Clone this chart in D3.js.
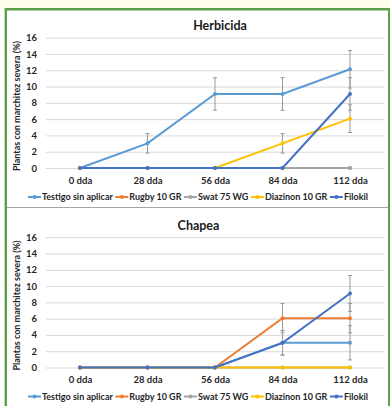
<!DOCTYPE html>
<html>
<head>
<meta charset="utf-8">
<script src="https://cdn.jsdelivr.net/npm/d3@7"></script>
<style>
  html, body { margin: 0; padding: 0; background: #fff; }
  svg text { font-family: Lato, "Open Sans", sans-serif; }
</style>
</head>
<body>
<svg id="chart" width="390" height="406"></svg>
<script>
// categories and series
var days = ['0 dda', '28 dda', '56 dda', '84 dda', '112 dda'];
var seriesNames = ['Testigo sin aplicar', 'Rugby 10 GR', 'Swat 75 WG', 'Diazinon 10 GR', 'Filokil'];
var seriesColors = ['#5B9BD5', '#ED7D31', '#A5A5A5', '#FFC000', '#4472C4'];
var yTicks = [0, 2, 4, 6, 8, 10, 12, 14, 16];

// Herbicida
var herbTestigo = [0, 3.03, 9.09, 9.09, 12.12];
var herbRugby = [0, 0, 0, 0, 0];
var herbSwat = [0, 0, 0, 0, 0];
var herbDiazinon = [0, 0, 0, 3.03, 6.06];
var herbFilokil = [0, 0, 0, 0, 9.09];
var herbTestigoErr = [0, 1.2, 2.0, 2.0, 2.3];
var herbDiazinonErr = [0, 0, 0, 1.2, 1.7];
var herbFilokilErr = [0, 0, 0, 0, 2.0];

// Chapea
var chapTestigo = [0, 0, 0, 3.03, 3.03];
var chapRugby = [0, 0, 0, 6.06, 6.06];
var chapSwat = [0, 0, 0, 0, 0];
var chapDiazinon = [0, 0, 0, 0, 0];
var chapFilokil = [0, 0, 0, 3.03, 9.09];
var chapTestigoErr = [0, 0, 0, 1.5, 2.1];
var chapRugbyErr = [0, 0, 0, 1.8, 1.8];
var chapFilokilErr = [0, 0, 0, 1.5, 2.2];

var svg = d3.select('#chart');

// page frame
svg.append('rect').attr('x', 0).attr('y', 0).attr('width', 390).attr('height', 9)
    .attr('fill', '#FFFEEC');
svg.append('rect').attr('x', 0).attr('y', 9).attr('width', 390).attr('height', 397)
    .attr('fill', '#fff');
svg.append('line').attr('x1', 7).attr('x2', 388).attr('y1', 207.5).attr('y2', 207.5)
    .attr('stroke', '#A6A6A6').attr('stroke-width', 1);
svg.append('path')
    .attr('d', 'M5.8,406 V9.3 H389.2 V406')
    .attr('fill', 'none').attr('stroke', '#5E9E48').attr('stroke-width', 2.4);

function drawPanel(offsetY, title, titleX, values, errors) {
  var g = svg.append('g').attr('transform', 'translate(0,' + offsetY + ')');

  var x = d3.scalePoint().domain(days).range([80, 350]);
  var y = d3.scaleLinear().domain([0, 16]).range([168, 37.7]);

  g.append('text')
      .attr('x', titleX).attr('y', 30)
      .attr('text-anchor', 'middle')
      .attr('font-size', 12.5).attr('font-weight', 700)
      .attr('fill', '#1a1a1a')
      .text(title);

  var yAxis = g.append('g')
      .attr('transform', 'translate(46,0)')
      .call(d3.axisLeft(y).tickValues(yTicks).tickSize(-338).tickPadding(9));
  yAxis.select('.domain').remove();
  yAxis.selectAll('line').attr('stroke', '#D9D9D9');
  yAxis.selectAll('text')
      .attr('font-size', 9.5).attr('font-weight', 700).attr('fill', '#262626')
      .style('font-family', 'Lato, sans-serif');

  var xAxis = g.append('g')
      .attr('transform', 'translate(0,168)')
      .call(d3.axisBottom(x).tickSize(0).tickPadding(9));
  xAxis.select('.domain').remove();
  xAxis.selectAll('text')
      .attr('font-size', 9.5).attr('font-weight', 700).attr('fill', '#262626')
      .style('font-family', 'Lato, sans-serif');

  g.append('text')
      .attr('transform', 'translate(20,106) rotate(-90)')
      .attr('text-anchor', 'middle')
      .attr('font-size', 9).attr('font-weight', 700).attr('fill', '#262626')
      .text('Plantas con marchitez severa (%)');

  var line = d3.line()
      .x(function(d, i) { return x(days[i]); })
      .y(function(d) { return y(d); });

  values.forEach(function(vals, s) {
    g.append('path')
        .datum(vals)
        .attr('d', line)
        .attr('fill', 'none')
        .attr('stroke', seriesColors[s])
        .attr('stroke-width', 2);

    var err = errors[s];
    if (err) {
      vals.forEach(function(v, i) {
        if (!err[i]) return;
        var cx = x(days[i]);
        var eg = g.append('g').attr('stroke', '#999').attr('stroke-width', 1);
        eg.append('line').attr('x1', cx).attr('x2', cx)
            .attr('y1', y(v - err[i])).attr('y2', y(v + err[i]));
        [v - err[i], v + err[i]].forEach(function(e) {
          eg.append('line').attr('x1', cx - 2).attr('x2', cx + 2)
              .attr('y1', y(e)).attr('y2', y(e));
        });
      });
    }

    g.selectAll(null)
        .data(vals)
        .enter()
        .append('circle')
        .attr('cx', function(d, i) { return x(days[i]); })
        .attr('cy', function(d) { return y(d); })
        .attr('r', 2)
        .attr('fill', seriesColors[s]);
  });

  // legend
  var leg = g.append('g').attr('transform', 'translate(0,197)');
  var items = leg.selectAll('g.item')
      .data(seriesNames)
      .enter()
      .append('g')
      .attr('class', 'item');
  items.append('line')
      .attr('x1', 0).attr('x2', 13).attr('y1', 0).attr('y2', 0)
      .attr('stroke', function(d, i) { return seriesColors[i]; })
      .attr('stroke-width', 2);
  items.append('circle')
      .attr('cx', 6.5).attr('cy', 0).attr('r', 2)
      .attr('fill', function(d, i) { return seriesColors[i]; });
  items.append('text')
      .attr('x', 14).attr('y', 3.2)
      .attr('font-size', 9).attr('font-weight', 700).attr('fill', '#262626')
      .text(function(d) { return d; });

  var widths = [];
  items.each(function() {
    widths.push(14 + d3.select(this).select('text').node().getComputedTextLength());
  });
  var gap = 2.5;
  var total = d3.sum(widths) + gap * (widths.length - 1);
  var cur = 198 - total / 2;
  items.attr('transform', function(d, i) {
    var t = 'translate(' + cur + ',0)';
    cur += widths[i] + gap;
    return t;
  });
}

drawPanel(0, 'Herbicida', 220,
    [herbTestigo, herbRugby, herbSwat, herbDiazinon, herbFilokil],
    [herbTestigoErr, null, null, herbDiazinonErr, herbFilokilErr]);

drawPanel(199.5, 'Chapea', 198.5,
    [chapTestigo, chapRugby, chapSwat, chapDiazinon, chapFilokil],
    [chapTestigoErr, chapRugbyErr, null, null, chapFilokilErr]);
</script>
</body>
</html>
